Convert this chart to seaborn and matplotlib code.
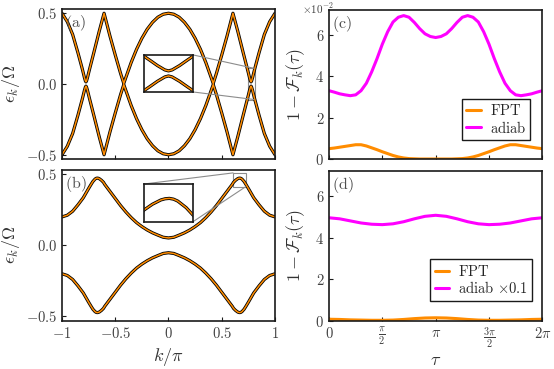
import numpy as np
import matplotlib
matplotlib.use('Agg')
import matplotlib.pyplot as plt
import seaborn as sns
from mpl_toolkits.axes_grid1.inset_locator import mark_inset

# (a) band energy eps_k / Omega (upper band, lower band is the mirror -eps)
k_a = [-1.0, -0.95, -0.9, -0.85, -0.81, -0.8, -0.79, -0.78, -0.775, -0.77, -0.76, -0.75, -0.74,
       -0.7, -0.65, -0.605, -0.55, -0.5, -0.45, -0.42, -0.4, -0.35, -0.3, -0.25, -0.2, -0.15,
       -0.1, -0.05, 0.0, 0.05, 0.1, 0.15, 0.2, 0.25, 0.3, 0.35, 0.4, 0.42, 0.45, 0.5, 0.55,
       0.605, 0.65, 0.7, 0.74, 0.75, 0.76, 0.77, 0.775, 0.78, 0.79, 0.8, 0.81, 0.85, 0.9,
       0.95, 1.0]
eps_a = [0.5, 0.44, 0.35, 0.22, 0.108, 0.078, 0.047, 0.021, 0.015, 0.021, 0.047, 0.078, 0.108,
         0.225, 0.374, 0.5, 0.34, 0.205, 0.075, 0.004, 0.047, 0.153, 0.245, 0.323, 0.387, 0.436,
         0.472, 0.493, 0.5, 0.493, 0.472, 0.436, 0.387, 0.323, 0.245, 0.153, 0.047, 0.004, 0.075,
         0.205, 0.34, 0.5, 0.374, 0.225, 0.108, 0.078, 0.047, 0.021, 0.015, 0.021, 0.047, 0.078,
         0.108, 0.22, 0.35, 0.44, 0.5]

# (b) gapped bands
k_b = [-1.0, -0.95, -0.9, -0.85, -0.8, -0.75, -0.726, -0.71, -0.69, -0.68, -0.67, -0.66, -0.65,
       -0.63, -0.61, -0.6, -0.55, -0.5, -0.45, -0.4, -0.35, -0.3, -0.25, -0.2, -0.15, -0.1,
       -0.05, 0.0, 0.05, 0.1, 0.15, 0.2, 0.25, 0.3, 0.35, 0.4, 0.45, 0.5, 0.55, 0.6, 0.61,
       0.63, 0.65, 0.66, 0.67, 0.68, 0.69, 0.71, 0.726, 0.75, 0.8, 0.85, 0.9, 0.95, 1.0]
eps_b = [0.2, 0.212, 0.24, 0.285, 0.335, 0.40, 0.43, 0.449, 0.466, 0.471, 0.473, 0.472, 0.469,
         0.458, 0.443, 0.43, 0.38, 0.33, 0.28, 0.235, 0.195, 0.16, 0.132, 0.108, 0.088, 0.072,
         0.057, 0.052, 0.057, 0.072, 0.088, 0.108, 0.132, 0.16, 0.195, 0.235, 0.28, 0.33, 0.38,
         0.43, 0.443, 0.458, 0.469, 0.472, 0.473, 0.471, 0.466, 0.449, 0.43, 0.40, 0.335, 0.285,
         0.24, 0.212, 0.2]

# (c) infidelity (units of 1e-2), tau in units of pi
tau_c = [0.0, 0.05, 0.1, 0.15, 0.2, 0.25, 0.3, 0.35, 0.4, 0.45, 0.5, 0.55, 0.6, 0.65, 0.7,
         0.75, 0.8, 0.85, 0.9, 0.95, 1.0, 1.05, 1.1, 1.15, 1.2, 1.25, 1.3, 1.35, 1.4, 1.45,
         1.5, 1.55, 1.6, 1.65, 1.7, 1.75, 1.8, 1.85, 1.9, 1.95, 2.0]
fpt_c = [0.50, 0.53, 0.57, 0.61, 0.65, 0.69, 0.69, 0.63, 0.54, 0.45, 0.35, 0.26, 0.17, 0.10,
         0.05, 0.02, 0.01, 0.0, 0.0, 0.0, 0.0, 0.0, 0.0, 0.0, 0.01, 0.02, 0.05, 0.10, 0.17,
         0.26, 0.35, 0.45, 0.54, 0.63, 0.69, 0.69, 0.65, 0.61, 0.57, 0.53, 0.50]
adiab_c = [3.30, 3.23, 3.15, 3.10, 3.06, 3.10, 3.30, 3.66, 4.21, 4.85, 5.55, 6.15, 6.62, 6.85,
           6.93, 6.85, 6.60, 6.30, 6.05, 5.92, 5.87, 5.92, 6.05, 6.30, 6.60, 6.85, 6.93, 6.85,
           6.62, 6.15, 5.55, 4.85, 4.21, 3.66, 3.30, 3.10, 3.06, 3.10, 3.15, 3.23, 3.30]

# (d) infidelity, adiabatic curve scaled by 0.1
tau_d = [0.0, 0.1, 0.2, 0.3, 0.4, 0.5, 0.6, 0.7, 0.8, 0.9, 1.0, 1.1, 1.2, 1.3, 1.4, 1.5, 1.6,
         1.7, 1.8, 1.9, 2.0]
fpt_d = [0.07, 0.06, 0.04, 0.03, 0.02, 0.02, 0.03, 0.06, 0.10, 0.13, 0.14, 0.13, 0.10, 0.06,
         0.03, 0.02, 0.02, 0.03, 0.04, 0.06, 0.07]
adiab_d = [4.95, 4.90, 4.80, 4.70, 4.64, 4.62, 4.66, 4.76, 4.90, 5.02, 5.07, 5.02, 4.90, 4.76,
           4.66, 4.62, 4.64, 4.70, 4.80, 4.90, 4.95]

k_ticks = [-1, -0.5, 0, 0.5, 1]
k_ticklabels = [r'$-1$', r'$-0.5$', r'$0$', r'$0.5$', r'$1$']
e_ticks = [-0.5, 0.0, 0.5]
e_ticklabels = [r'$-0.5$', r'$0.0$', r'$0.5$']
tau_ticks = [0, 0.5, 1, 1.5, 2]
tau_ticklabels = [r'$0$', r'$\frac{\pi}{2}$', r'$\pi$', r'$\frac{3\pi}{2}$', r'$2\pi$']
f_ticks = [0, 2, 4, 6]
f_ticklabels = [r'$0$', r'$2$', r'$4$', r'$6$']

ORANGE = '#ff8c00'
MAGENTA = '#ff00ff'

sns.set_theme(style='ticks')
plt.rcParams.update({
    'mathtext.fontset': 'cm',
    'font.family': ['DejaVu Serif'],
    'axes.linewidth': 1.2,
    'axes.edgecolor': '0.1',
    'xtick.direction': 'in',
    'ytick.direction': 'in',
    'xtick.major.size': 3,
    'ytick.major.size': 3,
    'xtick.major.width': 0.8,
    'ytick.major.width': 0.8,
    'xtick.color': '0.1',
    'ytick.color': '0.1',
    'xtick.labelcolor': '0.25',
    'ytick.labelcolor': '0.25',
    'xtick.labelsize': 10.5,
    'ytick.labelsize': 10.5,
    'axes.labelcolor': '0.2',
})


def band(ax, k, eps):
    k = np.array(k)
    eps = np.array(eps)
    for sgn in (1, -1):
        sns.lineplot(x=k, y=sgn * eps, ax=ax, color='black', linewidth=2.3,
                     estimator=None, sort=False)
    for sgn in (1, -1):
        sns.lineplot(x=k, y=sgn * eps, ax=ax, color=ORANGE, linewidth=1.1,
                     estimator=None, sort=False)


fig = plt.figure(figsize=(5.54, 3.69), dpi=100)
ax_a = fig.add_axes([0.1119, 0.5691, 0.3845, 0.4065])
ax_b = fig.add_axes([0.1119, 0.1309, 0.3845, 0.4084])
ax_c = fig.add_axes([0.5939, 0.5691, 0.385, 0.4038])
ax_d = fig.add_axes([0.5939, 0.1309, 0.385, 0.4057])

# left column: band structures
for ax, k, eps in ((ax_a, k_a, eps_a), (ax_b, k_b, eps_b)):
    band(ax, k, eps)
    ax.set_xlim(-1, 1)
    ax.set_ylim(-0.53, 0.53)
    ax.set_xticks(k_ticks)
    ax.set_yticks(e_ticks)
    ax.set_yticklabels(e_ticklabels)
    ax.set_ylabel(r'$\epsilon_k/\Omega$', fontsize=13)
    ax.yaxis.set_label_coords(-0.19, 0.5)
ax_a.set_xticklabels([])
ax_b.set_xticklabels(k_ticklabels)
ax_b.set_xlabel(r'$k/\pi$', fontsize=13)

# inset (a): avoided crossing
ins_a = ax_a.inset_axes([0.385, 0.447, 0.23, 0.247])
band(ins_a, k_a, eps_a)
ins_a.set_xlim(0.742, 0.808)
ins_a.set_ylim(-0.11, 0.11)
ins_a.set_xticks([])
ins_a.set_yticks([])
mark_inset(ax_a, ins_a, loc1=1, loc2=4, fc='none', ec='0.55', lw=0.8)

# inset (b): top of the band
ins_b = ax_b.inset_axes([0.385, 0.657, 0.23, 0.25])
band(ins_b, k_b, eps_b)
ins_b.set_xlim(0.61, 0.726)
ins_b.set_ylim(0.413, 0.51)
ins_b.set_xticks([])
ins_b.set_yticks([])
mark_inset(ax_b, ins_b, loc1=2, loc2=4, fc='none', ec='0.55', lw=0.8)

# right column: infidelities
panels = ((ax_c, tau_c, fpt_c, adiab_c, r'$\mathrm{adiab}$', (0.944, 0.128)),
          (ax_d, tau_d, fpt_d, adiab_d, r'$\mathrm{adiab}\ {\times}0.1$', (0.953, 0.134)))
for ax, t, fpt, adiab, lab, anchor in panels:
    t = np.array(t) * np.pi
    sns.lineplot(x=t, y=fpt, ax=ax, color=ORANGE, linewidth=2.2, estimator=None,
                 label=r'$\mathrm{FPT}$')
    sns.lineplot(x=t, y=adiab, ax=ax, color=MAGENTA, linewidth=2.2, estimator=None,
                 label=lab)
    ax.set_xlim(0, 2 * np.pi)
    ax.set_ylim(0, 7.2)
    ax.set_xticks(np.array(tau_ticks) * np.pi)
    ax.set_yticks(f_ticks)
    ax.set_yticklabels(f_ticklabels)
    ax.set_ylabel(r'$1-\mathcal{F}_k(\tau)$', fontsize=13)
    ax.yaxis.set_label_coords(-0.103, 0.5)
    ax.legend(loc='lower right', bbox_to_anchor=anchor, borderaxespad=0, fontsize=10.5,
              frameon=True, fancybox=False, edgecolor='0.1', framealpha=1,
              handlelength=1.0, handletextpad=0.6, labelspacing=0.1, borderpad=0.3)
ax_c.set_xticklabels([])
ax_d.set_xticklabels(tau_ticklabels)
ax_d.set_xlabel(r'$\tau$', fontsize=13)
ax_d.xaxis.set_label_coords(0.5, -0.2)
ax_c.text(-0.128, 1.058, r'$\times10^{-2}$', transform=ax_c.transAxes, fontsize=8,
          color='0.25', va='top', ha='left')

for ax, lab in ((ax_a, '(a)'), (ax_b, '(b)'), (ax_c, '(c)'), (ax_d, '(d)')):
    ax.text(0.015, 0.975, r'$\mathrm{%s}$' % lab, transform=ax.transAxes, fontsize=11.5,
            color='0.3', va='top', ha='left')

fig.savefig('out.png', dpi=100)
